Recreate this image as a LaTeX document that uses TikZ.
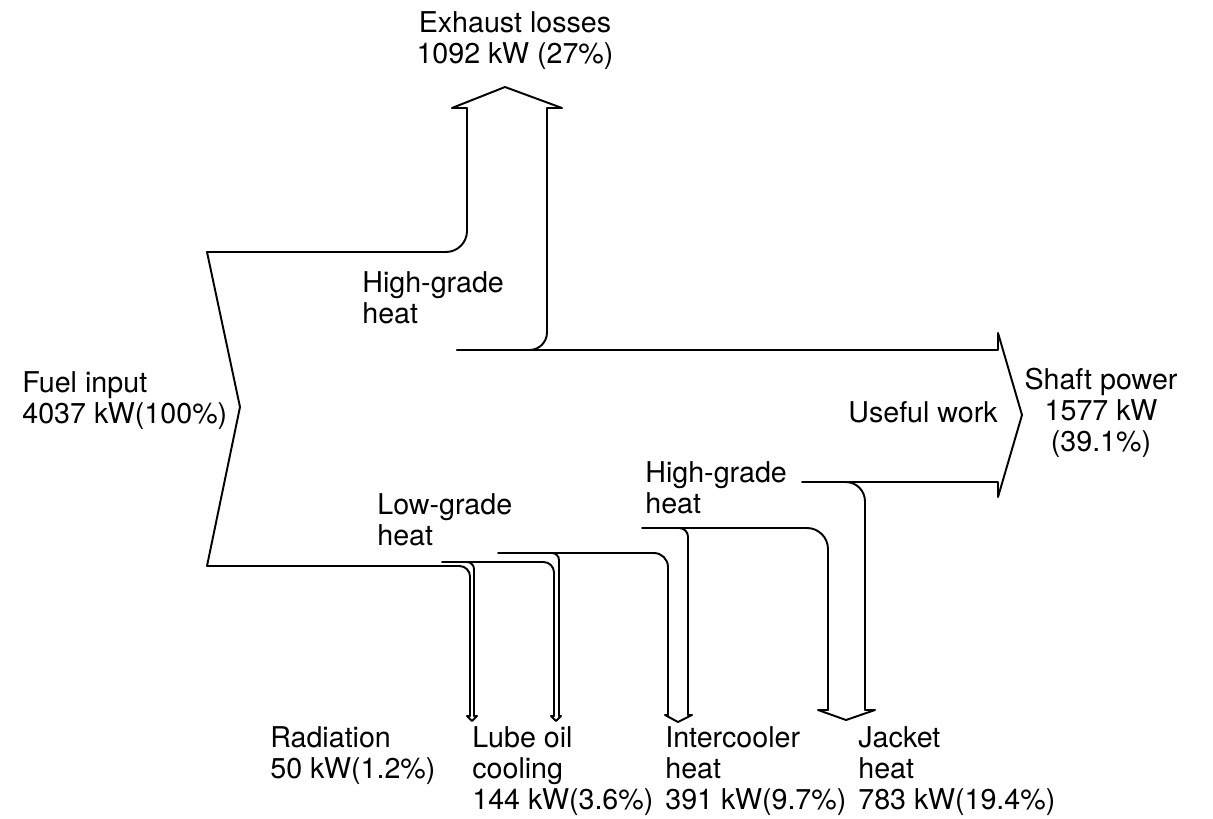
\documentclass[tikz,border=0pt]{standalone}
\usepackage{fontspec}
\setmainfont{TeX Gyre Heros}
\tikzset{
    flow-line/.style = {draw=black, line width=1.1pt, line join=round, line cap=round},
    flow-label/.style = {inner sep=0pt, font=\fontsize{16.3}{17.6}\selectfont, align=left, anchor=base west},
}

\begin{document}
\begin{tikzpicture}[x=0.02cm, y=-0.02cm]
\useasboundingbox (0,0) rectangle (1213,818);

\draw[flow-line, rounded corners=10pt] (457,350) -- (547,350) -- (547,108);
\draw[flow-line] (547,108) -- (562,108) -- (505,87) -- (452,108) -- (467,108);
\draw[flow-line, rounded corners=12pt] (467,108) -- (467,252) -- (207,252);
\draw[flow-line] (207,252) -- (240,407) -- (207,566);
\draw[flow-line] (802,482) -- (998,482) -- (998,497) -- (1022,415) -- (998,333) -- (998,350) -- (457,350);

\draw[flow-line, rounded corners=6pt] (207,566) -- (470,566) -- (470,716);
\draw[flow-line] (470,716) -- (467,716) -- (472,721) -- (477,716) -- (474,716);
\draw[flow-line, rounded corners=4pt] (474,716) -- (474,562) -- (465,562);

\draw[flow-line, rounded corners=6pt] (442,562) -- (554,562) -- (554,716);
\draw[flow-line] (554,716) -- (551,716) -- (556,721) -- (561,716) -- (559,716);
\draw[flow-line, rounded corners=4pt] (559,716) -- (559,553) -- (550,553);

\draw[flow-line, rounded corners=8pt] (498,553) -- (668,553) -- (668,715);
\draw[flow-line] (668,715) -- (665,715) -- (678,722) -- (692,715) -- (688,715);
\draw[flow-line, rounded corners=5pt] (688,715) -- (688,528) -- (680,528);

\draw[flow-line, rounded corners=12pt] (642,528) -- (828,528) -- (828,710);
\draw[flow-line] (828,710) -- (818,710) -- (846,720) -- (875,710) -- (865,710);
\draw[flow-line, rounded corners=11pt] (865,710) -- (865,482) -- (842,482);

\node[flow-label, align=center, anchor=base] (exhaust) at (515,63) {Exhaust losses\\1092 kW (27\%)};
\node[flow-label] (hg-top) at (362,323) {High-grade\\heat};
\node[flow-label] (fuel) at (22,423) {Fuel input\\4037 kW(100\%)};
\node[flow-label, align=center, anchor=base] (shaft) at (1101,451) {Shaft power\\1577 kW\\(39.1\%)};
\node[flow-label] (useful) at (848,422) {Useful work};
\node[flow-label] (hg-low) at (645,513) {High-grade\\heat};
\node[flow-label] (lg) at (377,545) {Low-grade\\heat};
\node[flow-label] (radiation) at (270,778) {Radiation\\50 kW(1.2\%)};
\node[flow-label] (lube) at (472,809) {Lube oil\\cooling\\144 kW(3.6\%)};
\node[flow-label] (intercooler) at (665,809) {Intercooler\\heat\\391 kW(9.7\%)};
\node[flow-label] (jacket) at (858,809) {Jacket\\heat\\783 kW(19.4\%)};
\end{tikzpicture}
\end{document}
